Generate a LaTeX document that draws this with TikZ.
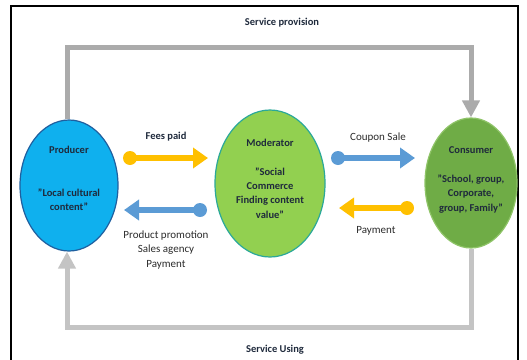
\documentclass[tikz,border=0pt]{standalone}
\usepackage{fontspec}
\setmainfont{Carlito}
\usetikzlibrary{shapes.geometric,arrows.meta}
\definecolor{prodfill}{HTML}{0FB0EE}
\definecolor{proddraw}{HTML}{1F5F9F}
\definecolor{modfill}{HTML}{92D050}
\definecolor{moddraw}{HTML}{2AA89A}
\definecolor{consfill}{HTML}{6FAC46}
\definecolor{consdraw}{HTML}{8FC468}
\definecolor{yel}{HTML}{FFC000}
\definecolor{blu}{HTML}{5B9BD5}
\definecolor{greytop}{HTML}{ABABAB}
\definecolor{greybot}{HTML}{C4C4C4}
\definecolor{txtdark}{HTML}{1F2A3C}
\definecolor{txtreg}{HTML}{2B2B2B}
\tikzset{
  ell/.style={ellipse, inner sep=0pt, line width=1.2pt},
  boldtxt/.style={font=\fontsize{10.5}{14.2}\selectfont\bfseries, text=txtdark, align=center, inner sep=0pt},
  regtxt/.style={font=\fontsize{11}{14.8}\selectfont, text=txtreg, align=center, inner sep=0pt},
  greyline/.style={line width=5pt, line join=miter, -{Triangle[length=17pt,width=17pt]}},
  dot/.style={circle, inner sep=0pt, minimum size=14pt},
  flow/.style={line width=6.5pt, -{Triangle[length=15pt,width=20pt]}}
}
\begin{document}
\begin{tikzpicture}[x=1pt,y=-1pt]
\useasboundingbox (0,0) rectangle (527,359);
% frame
\draw[line width=1.8pt] (11,362) -- (11,6) -- (518,6) -- (518,362);
% ellipses
\node[ell, fill=prodfill, draw=proddraw, minimum width=98pt, minimum height=131pt] (prod) at (69,185.5) {};
\node[ell, fill=modfill, draw=moddraw, minimum width=110pt, minimum height=147pt] (mod) at (270,183.5) {};
\node[ell, fill=consfill, draw=consdraw, minimum width=92pt, minimum height=130pt] (cons) at (471,183) {};
% texts in ellipses
\node[boldtxt] (prodtitle) at (69,150) {Producer};
\node[boldtxt] (prodtext) at (69,200) {"Local cultural\\content"};
\node[boldtxt] (modtitle) at (270,143) {Moderator};
\node[boldtxt] (modtext) at (270,193) {"Social\\Commerce\\Finding content\\value"};
\node[boldtxt] (constitle) at (471,150) {Consumer};
\node[boldtxt] (constext) at (471,194) {"School, group,\\Corporate,\\group, Family"};
% top / bottom labels
\node[boldtxt] (sprov) at (282,23) {Service provision};
\node[boldtxt] (susing) at (275,350) {Service Using};
% grey loops
\coordinate (tl) at (67,47);
\coordinate (tr) at (471,47);
\coordinate (bl) at (67,327);
\coordinate (br) at (471,327);
\draw[greyline, greytop] (prod.north -| tl) -- (tl) -- (tr) -- (cons.north);
\draw[greyline, greybot] (cons.south) -- (br) -- (bl) -- (prod.south -| bl);
% flows
\node[dot, fill=yel] (d1) at (130,158) {};
\coordinate (t1) at (208,158);
\draw[flow, yel] (d1.center) -- (t1);
\node[dot, fill=blu] (d2) at (200,210) {};
\coordinate (t2) at (124,210);
\draw[flow, blu] (d2.center) -- (t2);
\node[dot, fill=blu] (d3) at (338,158) {};
\coordinate (t3) at (415,158);
\draw[flow, blu] (d3.center) -- (t3);
\node[dot, fill=yel] (d4) at (407,208) {};
\coordinate (t4) at (339,208);
\draw[flow, yel] (d4.center) -- (t4);
% flow labels
\node[boldtxt] (fees) at (166,137) {Fees paid};
\node[regtxt] (promo) at (166,250) {Product promotion\\Sales agency\\Payment};
\node[regtxt] (coupon) at (378,138) {Coupon Sale};
\node[regtxt] (pay) at (376,231) {Payment};
\end{tikzpicture}
\end{document}
